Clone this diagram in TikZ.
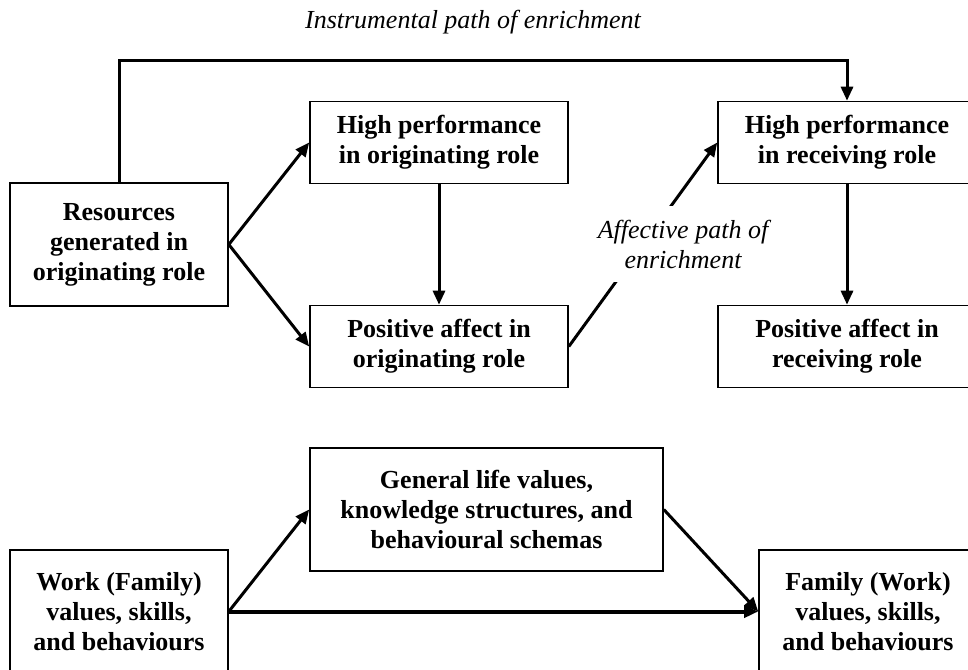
\documentclass[tikz,border=0pt]{standalone}
\usepackage{fontspec}
\setmainfont{Liberation Serif}
\usetikzlibrary{arrows.meta}
\tikzset{
      box/.style={draw=black, line width=0.8pt, align=center,
            font=\fontsize{13}{15}\selectfont\bfseries, inner sep=2pt},
      wide/.style={box, minimum width=129pt, minimum height=41pt},
      side/.style={box, minimum width=109pt, minimum height=61.5pt},
      path/.style={align=center, font=\fontsize{13}{15}\selectfont\itshape},
      arr/.style={-{Triangle[length=7pt,width=6pt]}, draw=black, line width=1.5pt},
      thickarr/.style={-{Triangle[length=7pt,width=6pt]}, draw=black, line width=2pt},
}

\begin{document}
\begin{tikzpicture}[x=0.5pt, y=-0.5pt]

        \useasboundingbox (0,0) rectangle (968,669) ;

        % upper model
        \node[path] (title) at (473,22) {Instrumental path of enrichment} ;
        \node[side] (res) at (119,244.5) {Resources\\generated in\\originating role} ;
        \node[wide] (hpo) at (439,142.5) {High performance\\in originating role} ;
        \node[wide] (poso) at (439,346.5) {Positive affect in\\originating role} ;
        \node[wide] (hpr) at (847,142.5) {High performance\\in receiving role} ;
        \node[wide] (posr) at (847,346.5) {Positive affect in\\receiving role} ;
        \coordinate (bend) at (119,60) ;

        \draw[arr] (res.north) -- (bend) -| (hpr.north) ;
        \draw[arr] (res.east) -- (hpo.west) ;
        \draw[arr] (res.east) -- (poso.west) ;
        \draw[arr] (hpo.south) -- (poso.north) ;
        \draw[arr] (hpr.south) -- (posr.north) ;
        \draw[arr] (poso.east) -- (hpr.west) ;
        \node[path, fill=white, inner xsep=1pt, inner ysep=7pt] (aff) at (683,244) {Affective path of\\enrichment} ;

        % lower model
        \node[box, minimum width=176.5pt, minimum height=61.5pt] (gen) at (486.5,509.5)
              {General life values,\\knowledge structures, and\\behavioural schemas} ;
        \node[side] (work) at (119,611.5) {Work (Family)\\values, skills,\\and behaviours} ;
        \node[side] (fam) at (868,611.5) {Family (Work)\\values, skills,\\and behaviours} ;

        \draw[arr] (work.east) -- (gen.west) ;
        \draw[arr] (gen.east) -- (fam.west) ;
        \draw[thickarr] (work.east) -- (fam.west) ;

\end{tikzpicture}
\end{document}
